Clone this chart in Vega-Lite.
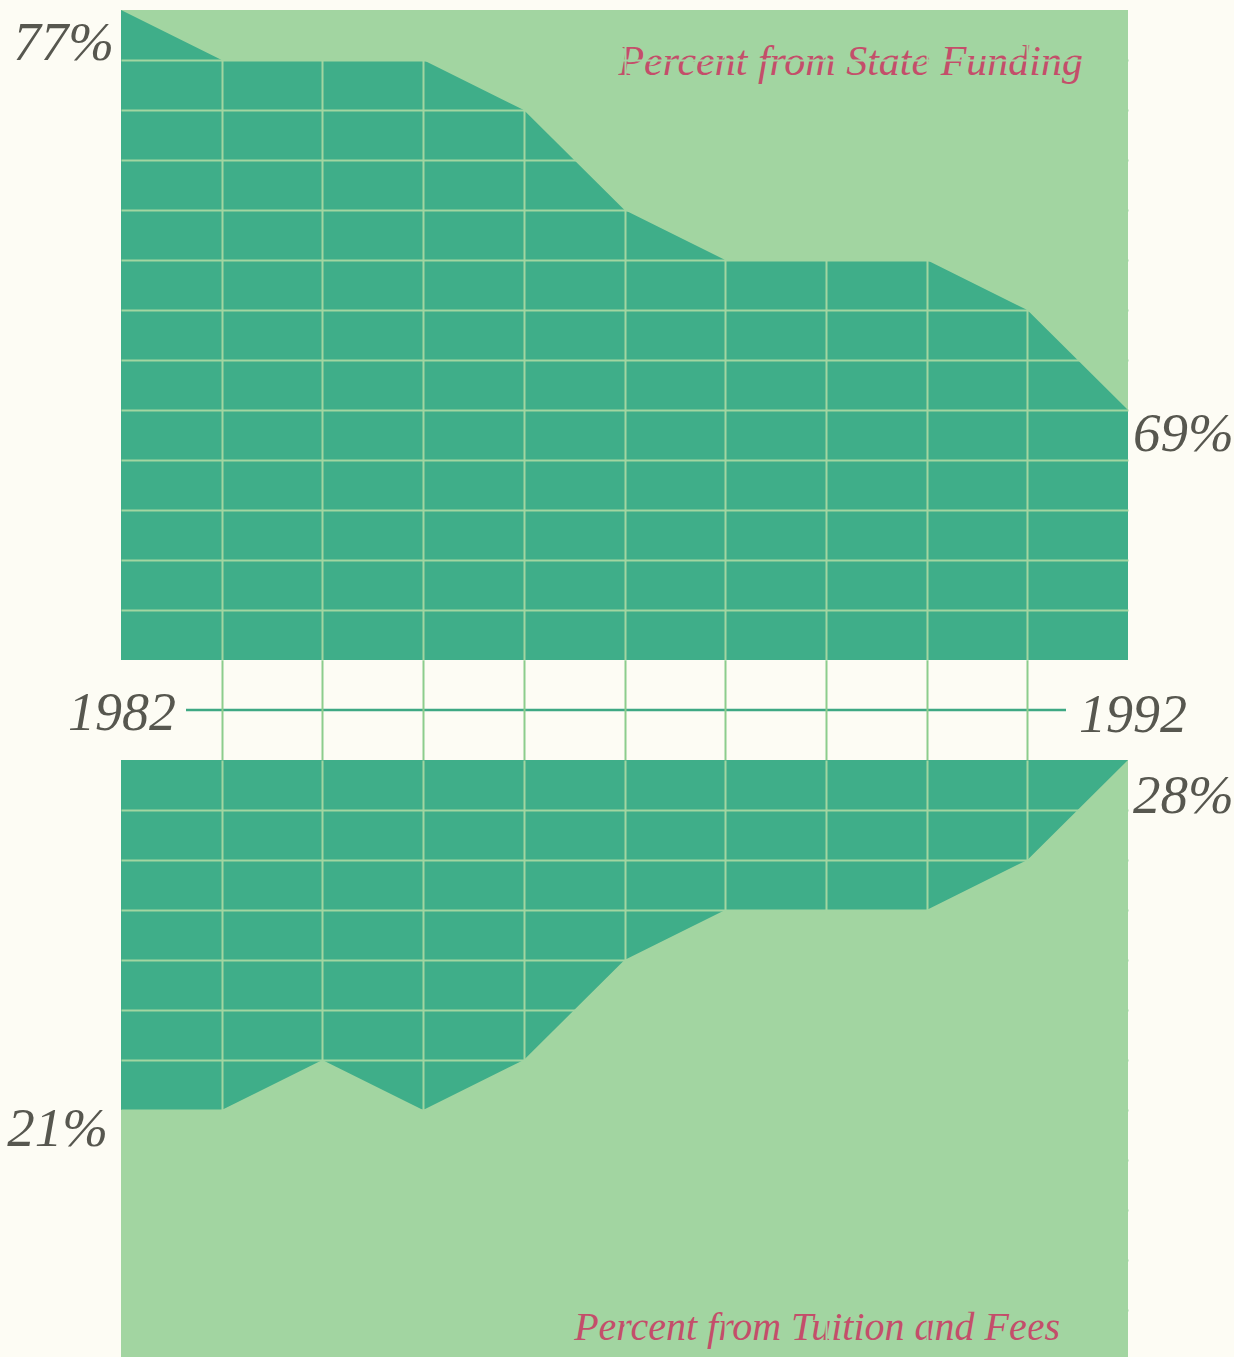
{
  "$schema": "https://vega.github.io/schema/vega-lite/v6.json",
  "background": "#fdfcf4",
  "padding": {"left": 7, "top": 10, "right": 0, "bottom": 0},
  "spacing": 0,
  "bounds": "flush",
  "config": {
    "view": {"stroke": null},
    "text": {"font": "Liberation Serif", "fontStyle": "italic"}
  },
  "datasets": {
    "state": [
      {"year": 1982, "pct": 77}, {"year": 1983, "pct": 76}, {"year": 1984, "pct": 76},
      {"year": 1985, "pct": 76}, {"year": 1986, "pct": 75}, {"year": 1987, "pct": 73},
      {"year": 1988, "pct": 72}, {"year": 1989, "pct": 72}, {"year": 1990, "pct": 72},
      {"year": 1991, "pct": 71}, {"year": 1992, "pct": 69}
    ],
    "tuition": [
      {"year": 1982, "pct": 21}, {"year": 1983, "pct": 21}, {"year": 1984, "pct": 22},
      {"year": 1985, "pct": 21}, {"year": 1986, "pct": 22}, {"year": 1987, "pct": 24},
      {"year": 1988, "pct": 25}, {"year": 1989, "pct": 25}, {"year": 1990, "pct": 25},
      {"year": 1991, "pct": 26}, {"year": 1992, "pct": 28}
    ],
    "one": [{}]
  },
  "vconcat": [
    {
      "width": 1007,
      "height": 650,
      "view": {"fill": "#a2d5a1", "stroke": null},
      "layer": [
        {
          "data": {"name": "state"},
          "mark": {"type": "area", "color": "#3fae89", "interpolate": "linear"},
          "encoding": {
            "x": {"field": "year", "type": "quantitative",
              "scale": {"domain": [1982, 1992], "nice": false, "zero": false},
              "axis": {"values": [1983, 1984, 1985, 1986, 1987, 1988, 1989, 1990, 1991], "grid": true, "gridColor": "#a2d5a1", "gridWidth": 2, "domain": false, "ticks": false, "labels": false, "title": null, "zindex": 1}},
            "y": {"field": "pct", "type": "quantitative",
              "scale": {"domain": [64, 77], "nice": false, "zero": false},
              "axis": {"values": [65, 66, 67, 68, 69, 70, 71, 72, 73, 74, 75, 76], "grid": true, "gridColor": "#a2d5a1", "gridWidth": 2, "domain": false, "ticks": false, "labels": false, "title": null, "zindex": 1}},
            "y2": {"datum": 64}
          }
        },
        {
          "data": {"name": "one"},
          "mark": {"type": "text", "align": "right", "baseline": "alphabetic", "dx": -7, "dy": 50, "fontSize": 55, "color": "#57574f"},
          "encoding": {"x": {"datum": 1982, "type": "quantitative"}, "y": {"datum": 77, "type": "quantitative"}, "text": {"value": "77%"}}
        },
        {
          "data": {"name": "one"},
          "mark": {"type": "text", "align": "left", "baseline": "alphabetic", "dx": 5, "dy": 41, "fontSize": 55, "color": "#57574f"},
          "encoding": {"x": {"datum": 1992, "type": "quantitative"}, "y": {"datum": 69, "type": "quantitative"}, "text": {"value": "69%"}}
        },
        {
          "data": {"name": "one"},
          "mark": {"type": "text", "align": "right", "baseline": "alphabetic", "dx": -45, "dy": 65, "fontSize": 42, "color": "#c44e6a"},
          "encoding": {"x": {"datum": 1992, "type": "quantitative"}, "y": {"datum": 77, "type": "quantitative"}, "text": {"value": "Percent from State Funding"}}
        }
      ]
    },
    {
      "width": 1007,
      "height": 100,
      "layer": [
        {
          "data": {"name": "one"},
          "mark": {"type": "rule", "color": "#3ea883", "strokeWidth": 2.5, "xOffset": 65, "x2Offset": -62},
          "encoding": {
            "x": {"datum": 1982, "type": "quantitative",
              "scale": {"domain": [1982, 1992], "nice": false, "zero": false},
              "axis": {"values": [1983, 1984, 1985, 1986, 1987, 1988, 1989, 1990, 1991], "grid": true, "gridColor": "#8ccd8c", "gridWidth": 2, "domain": false, "ticks": false, "labels": false, "title": null, "zindex": 1}},
            "x2": {"datum": 1992},
            "y": {"datum": 0.5, "type": "quantitative", "scale": {"domain": [0, 1], "nice": false, "zero": false}, "axis": null}
          }
        },
        {
          "data": {"name": "one"},
          "mark": {"type": "text", "align": "right", "baseline": "alphabetic", "dx": 55, "dy": 20, "fontSize": 54, "color": "#57574f"},
          "encoding": {"x": {"datum": 1982, "type": "quantitative"}, "y": {"datum": 0.5, "type": "quantitative"}, "text": {"value": "1982"}}
        },
        {
          "data": {"name": "one"},
          "mark": {"type": "text", "align": "left", "baseline": "alphabetic", "dx": -49, "dy": 22, "fontSize": 54, "color": "#57574f"},
          "encoding": {"x": {"datum": 1992, "type": "quantitative"}, "y": {"datum": 0.5, "type": "quantitative"}, "text": {"value": "1992"}}
        }
      ]
    },
    {
      "width": 1007,
      "height": 600,
      "view": {"fill": "#a2d5a1", "stroke": null},
      "layer": [
        {
          "data": {"name": "tuition"},
          "mark": {"type": "area", "color": "#3fae89", "interpolate": "linear"},
          "encoding": {
            "x": {"field": "year", "type": "quantitative",
              "scale": {"domain": [1982, 1992], "nice": false, "zero": false},
              "axis": {"values": [1983, 1984, 1985, 1986, 1987, 1988, 1989, 1990, 1991], "grid": true, "gridColor": "#a2d5a1", "gridWidth": 2, "domain": false, "ticks": false, "labels": false, "title": null, "zindex": 1}},
            "y": {"field": "pct", "type": "quantitative",
              "scale": {"domain": [16, 28], "nice": false, "zero": false},
              "axis": {"values": [17, 18, 19, 20, 21, 22, 23, 24, 25, 26, 27], "grid": true, "gridColor": "#a2d5a1", "gridWidth": 2, "domain": false, "ticks": false, "labels": false, "title": null, "zindex": 1}},
            "y2": {"datum": 28}
          }
        },
        {
          "data": {"name": "one"},
          "mark": {"type": "text", "align": "left", "baseline": "alphabetic", "dx": 5, "dy": 53, "fontSize": 55, "color": "#57574f"},
          "encoding": {"x": {"datum": 1992, "type": "quantitative"}, "y": {"datum": 28, "type": "quantitative"}, "text": {"value": "28%"}}
        },
        {
          "data": {"name": "one"},
          "mark": {"type": "text", "align": "right", "baseline": "alphabetic", "dx": -13, "dy": 36, "fontSize": 55, "color": "#57574f"},
          "encoding": {"x": {"datum": 1982, "type": "quantitative"}, "y": {"datum": 21, "type": "quantitative"}, "text": {"value": "21%"}}
        },
        {
          "data": {"name": "one"},
          "mark": {"type": "text", "align": "right", "baseline": "alphabetic", "dx": -68, "dy": -20, "fontSize": 40, "color": "#c44e6a"},
          "encoding": {"x": {"datum": 1992, "type": "quantitative"}, "y": {"datum": 16, "type": "quantitative"}, "text": {"value": "Percent from Tuition and Fees"}}
        }
      ]
    }
  ]
}
